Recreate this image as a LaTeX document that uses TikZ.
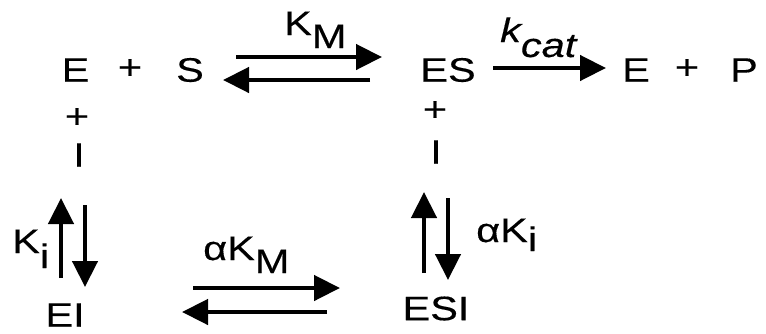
\documentclass[tikz,border=0pt]{standalone}
\usepackage{fontspec}
\setmainfont{Liberation Sans}[FakeStretch=1.22,FakeBold=0.3]
\usetikzlibrary{arrows.meta}
\tikzset{
  sp/.style={inner sep=0pt, font=\fontsize{34}{37}\selectfont},
  lbl/.style={inner sep=0pt, anchor=base west, font=\fontsize{34}{37}\selectfont},
  arr/.style={line width=4.5pt, -{Triangle[length=26pt,width=25pt]}},
}
\begin{document}
\begin{tikzpicture}[x=1pt,y=-1pt]
\useasboundingbox (0,0) rectangle (766,333);
% species
\node[sp] (E1) at (75.5,70) {E};
\node[sp] (p1) at (130,69) {+};
\node[sp] (S) at (190,70) {S};
\node[sp] (ES) at (448,70) {ES};
\node[sp] (E2) at (636,70) {E};
\node[sp] (p2) at (687,69) {+};
\node[sp] (P) at (744,70) {P};
\node[sp] (pL) at (77,118) {+};
\node[sp] (IL) at (79,155) {I};
\node[sp] (pR) at (435,111) {+};
\node[sp] (IR) at (436,152) {I};
\node[sp] (EI) at (65,315) {EI};
\node[sp] (ESI) at (436,308.5) {ESI};
% labels
\node[lbl] (KM) at (284,35) {K\raisebox{-13pt}{M}};
\node[lbl] (kcat) at (500,42) {\itshape k\raisebox{-15pt}{cat}};
\node[lbl] (Ki) at (12,253) {K\raisebox{-15pt}{i}};
\node[lbl] (aKM) at (203,260) {αK\raisebox{-13pt}{M}};
\node[lbl] (aKi) at (476,242) {αK\raisebox{-9pt}{i}};
% arrow end points
\coordinate (a1s) at (236,57);  \coordinate (a1e) at (382,57);
\coordinate (a2s) at (370,80);  \coordinate (a2e) at (223,80);
\coordinate (a3s) at (493,68);  \coordinate (a3e) at (606,68);
\coordinate (a4s) at (61,278);  \coordinate (a4e) at (61,198);
\coordinate (a5s) at (85,205);  \coordinate (a5e) at (85,287);
\coordinate (a6s) at (424,273); \coordinate (a6e) at (424,192);
\coordinate (a7s) at (448,198); \coordinate (a7e) at (448,280);
\coordinate (a8s) at (193,288); \coordinate (a8e) at (340,288);
\coordinate (a9s) at (327,312); \coordinate (a9e) at (182,312);
\draw[arr] (a1s) -- (a1e);
\draw[arr] (a2s) -- (a2e);
\draw[arr] (a3s) -- (a3e);
\draw[arr] (a4s) -- (a4e);
\draw[arr] (a5s) -- (a5e);
\draw[arr] (a6s) -- (a6e);
\draw[arr] (a7s) -- (a7e);
\draw[arr] (a8s) -- (a8e);
\draw[arr] (a9s) -- (a9e);
\end{tikzpicture}
\end{document}
